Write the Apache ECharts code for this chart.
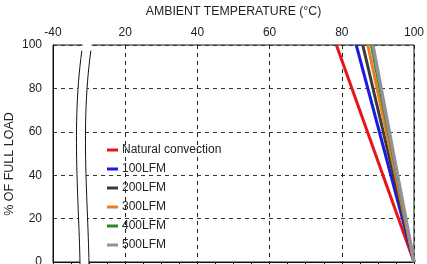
<!DOCTYPE html>
<html>
<head>
    <meta charset="utf-8">
    <title>Derating curve</title>
    <script type="text/javascript" src="https://cdn.jsdelivr.net/npm/echarts@6/dist/echarts.min.js"></script>
    <style type="text/css">
        html, body { margin: 0; padding: 0; background: #fff; }
        #chart { width: 427px; height: 264px; }
    </style>
</head>
<body>
<div id="chart"></div>
<script type="text/javascript">
    // ambient temperature ticks (axis position -> printed label, left end is broken)
    let tempTicks = [0, 20, 40, 60, 80, 100];
    let tempLabels = ['-40', '20', '40', '60', '80', '100'];
    let loadTicks = [0, 20, 40, 60, 80, 100];

    let seriesNames = ['Natural convection', '100LFM', '200LFM', '300LFM', '400LFM', '500LFM'];
    let seriesColors = ['#e8141a', '#1a1ae0', '#3a3a3a', '#ee7a22', '#2a8a2a', '#929292'];
    // temperature where each curve leaves 100 % load, and where it hits 0 %
    let startTemp = [78.5, 84, 85.8, 87.2, 88.2, 88.6];
    let endTemp = [100, 100, 100, 100, 100, 100];
    let fullLoad = [100, 100, 100, 100, 100, 100];
    let zeroLoad = [0, 0, 0, 0, 0, 0];

    let chart = echarts.init(document.getElementById('chart'), null, {renderer: 'canvas'});

    let series = seriesNames.map(function (name, i) {
        return {
            name: name,
            type: 'line',
            data: [[startTemp[i], fullLoad[i]], [endTemp[i], zeroLoad[i]]],
            symbol: 'none',
            lineStyle: {color: seriesColors[i], width: i === 5 ? 3.5 : 3},
            itemStyle: {color: seriesColors[i]},
            z: 3 + i
        };
    });

    // axis break: two wavy strokes with a white band between them
    function bez(x1, y1, cx1, cy1, cx2, cy2, x2, y2, n) {
        let pts = [];
        for (let k = 0; k <= n; k++) {
            let t = k / n, u = 1 - t;
            pts.push([
                u * u * u * x1 + 3 * u * u * t * cx1 + 3 * u * t * t * cx2 + t * t * t * x2,
                u * u * u * y1 + 3 * u * u * t * cy1 + 3 * u * t * t * cy2 + t * t * t * y2
            ]);
        }
        return pts;
    }
    let leftWave = bez(83, 43, 71, 120, 79, 200, 80, 264, 30);
    let rightWave = bez(92, 43, 80, 120, 88, 200, 89, 264, 30);
    let band = leftWave.concat(rightWave.slice().reverse());

    let extraGraphics = [
        {type: 'polygon', z: 50, silent: true, shape: {points: band}, style: {fill: '#fff'}},
        {type: 'polyline', z: 51, silent: true, shape: {points: leftWave.slice(1)}, style: {stroke: '#111', lineWidth: 1, fill: null}},
        {type: 'polyline', z: 51, silent: true, shape: {points: rightWave.slice(1)}, style: {stroke: '#111', lineWidth: 1, fill: null}},
        // y axis title, placed by hand
        {
            type: 'text', x: 10, y: 164, rotation: Math.PI / 2, silent: true,
            style: {
                text: '% OF FULL LOAD', fill: '#222', fontSize: 12.5,
                fontFamily: 'Liberation Sans, Arial, sans-serif',
                align: 'center', verticalAlign: 'middle'
            }
        }
    ];

    chart.setOption({
        animation: false,
        textStyle: {fontFamily: 'Liberation Sans, Arial, sans-serif'},
        grid: {
            left: 53, right: 13, top: 45, bottom: 2,
            containLabel: false, outerBoundsMode: 'none',
            show: true, borderColor: '#111', borderWidth: 1, backgroundColor: '#fff'
        },
        legend: {
            data: seriesNames,
            orient: 'vertical',
            left: 107, top: 144, padding: 0,
            height: 120,
            itemWidth: 11, itemHeight: 3, itemGap: 7,
            icon: 'rect',
            textStyle: {fontSize: 12, color: '#222', padding: [0, 0, 0, -1]}
        },
        xAxis: {
            type: 'value',
            position: 'top',
            min: 0, max: 100, interval: 20,
            name: 'AMBIENT TEMPERATURE (\u00b0C)',
            nameLocation: 'middle',
            nameGap: 27,
            nameTextStyle: {fontSize: 12.3, color: '#222'},
            axisLine: {show: true, lineStyle: {color: '#111'}},
            axisTick: {show: true, inside: true, length: 5, lineStyle: {color: '#111'}},
            minorTick: {show: true, splitNumber: 4, length: 3, lineStyle: {color: '#111'}},
            axisLabel: {
                fontSize: 12, color: '#222', margin: 6,
                formatter: function (v) {
                    let k = tempTicks.indexOf(v);
                    return k >= 0 ? tempLabels[k] : '';
                }
            },
            splitLine: {show: true, lineStyle: {type: [4, 4], color: '#222', width: 1}}
        },
        yAxis: {
            type: 'value',
            min: 0, max: 100, interval: 20,
            axisLine: {show: true, lineStyle: {color: '#111'}},
            axisTick: {show: false},
            axisLabel: {fontSize: 12, color: '#222', margin: 11},
            splitLine: {show: true, lineStyle: {type: [4, 4], color: '#333', width: 1}}
        },
        series: series,
        graphic: extraGraphics
    });
</script>
</body>
</html>
